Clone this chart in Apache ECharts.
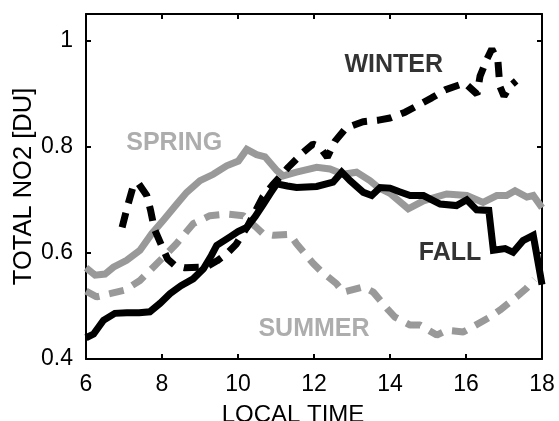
<!DOCTYPE html>
<html>
<head>
<meta charset="utf-8">
<script src="https://cdn.jsdelivr.net/npm/echarts@6/dist/echarts.min.js"></script>
<style>html,body{margin:0;padding:0;background:#fff}#c{width:559px;height:421px}</style>
</head>
<body>
<div id="c"></div>
<script>
// Local time (h) and total NO2 (DU)
const spring = [[6.0,0.572],[6.24,0.558],[6.5,0.560],[6.72,0.573],[7.07,0.586],[7.42,0.605],[7.73,0.636],[8.03,0.661],[8.39,0.692],[8.65,0.714],[9.0,0.736],[9.35,0.748],[9.7,0.764],[10.01,0.773],[10.23,0.795],[10.49,0.785],[10.71,0.781],[11.02,0.755],[11.19,0.745],[11.54,0.752],[12.07,0.761],[12.42,0.758],[12.77,0.748],[13.12,0.752],[13.47,0.736],[13.69,0.723],[14.0,0.712],[14.48,0.683],[14.88,0.698],[15.49,0.711],[16.02,0.708],[16.45,0.695],[16.81,0.708],[17.07,0.708],[17.29,0.717],[17.6,0.705],[17.77,0.708],[18.0,0.685]];
const summer = [[6.0,0.528],[6.28,0.517],[6.63,0.523],[7.03,0.530],[7.42,0.548],[7.77,0.573],[8.12,0.598],[8.38,0.617],[8.82,0.655],[9.26,0.670],[9.7,0.673],[10.14,0.670],[10.45,0.650],[10.66,0.636],[10.93,0.633],[11.37,0.635],[11.54,0.617],[11.98,0.580],[12.16,0.567],[12.59,0.542],[12.77,0.526],[13.3,0.536],[13.56,0.526],[13.96,0.492],[14.13,0.479],[14.53,0.464],[14.79,0.464],[15.23,0.445],[15.49,0.454],[15.93,0.451],[16.11,0.458],[16.63,0.479],[16.89,0.492],[17.33,0.517],[17.59,0.533],[17.8,0.550]];
const fall = [[6.0,0.440],[6.2,0.447],[6.46,0.473],[6.76,0.486],[7.07,0.487],[7.4,0.487],[7.68,0.489],[7.95,0.505],[8.21,0.523],[8.5,0.538],[8.82,0.551],[9.09,0.570],[9.3,0.595],[9.44,0.614],[9.79,0.630],[10.0,0.640],[10.23,0.648],[10.45,0.668],[10.67,0.692],[10.85,0.712],[11.02,0.730],[11.3,0.726],[11.54,0.723],[12.07,0.725],[12.5,0.733],[12.73,0.752],[12.95,0.736],[13.3,0.714],[13.52,0.708],[13.74,0.723],[14.0,0.722],[14.25,0.715],[14.53,0.708],[14.88,0.708],[15.32,0.692],[15.75,0.689],[16.02,0.700],[16.28,0.681],[16.6,0.680],[16.72,0.605],[17.03,0.608],[17.24,0.601],[17.5,0.623],[17.77,0.633],[17.95,0.561],[18.0,0.540]];
const winter = [[6.95,0.648],[7.1,0.690],[7.24,0.725],[7.37,0.732],[7.6,0.708],[7.7,0.680],[7.8,0.645],[8.0,0.612],[8.15,0.588],[8.34,0.576],[8.6,0.572],[9.0,0.573],[9.2,0.575],[9.45,0.585],[9.7,0.598],[9.95,0.616],[10.25,0.650],[10.65,0.705],[10.9,0.727],[11.32,0.761],[11.71,0.789],[11.97,0.805],[12.15,0.800],[12.35,0.780],[12.55,0.810],[12.84,0.835],[13.29,0.847],[13.7,0.850],[14.0,0.854],[14.4,0.865],[14.71,0.877],[15.1,0.892],[15.45,0.907],[15.97,0.920],[16.29,0.899],[16.37,0.933],[16.55,0.965],[16.68,0.984],[16.84,0.961],[16.89,0.914],[17.0,0.895],[17.16,0.914],[17.32,0.924]];
const seasonLabels = [
  {name:'WINTER', pos:[14.1,0.954], dark:true},
  {name:'SPRING', pos:[8.32,0.807], dark:false},
  {name:'FALL', pos:[15.58,0.600], dark:true},
  {name:'SUMMER', pos:[12.0,0.456], dark:false}
];
const xTicks = {min:6, max:18, interval:2};
const yTicks = {min:0.4, max:1.05, interval:0.2};

const GRAY = '#999999', BLACK = '#000000';
const FONT = '"Liberation Sans", Arial, Helvetica, sans-serif';
const chart = echarts.init(document.getElementById('c'), null, {renderer:'canvas'});

const axisCommon = {
  axisLine:{show:true, lineStyle:{color:'#000', width:2}},
  axisTick:{show:true, inside:true, length:5, lineStyle:{color:'#000', width:2}},
  splitLine:{show:false}
};
function yFmt(v){ if (v > 1.001) return ''; if (Math.abs(v-1)<1e-6) return '1'; return v.toFixed(1); }

chart.setOption({
  animation:false,
  backgroundColor:'#fff',
  grid:{left:86, right:17, top:14, bottom:62, containLabel:false, outerBoundsMode:'none'},
  xAxis:[
    Object.assign({type:'value', position:'bottom', min:xTicks.min, max:xTicks.max, interval:xTicks.interval,
      name:'LOCAL TIME', nameLocation:'middle', nameGap:44, nameMoveOverlap:false,
      nameTextStyle:{fontFamily:FONT, fontSize:24, color:'#000', padding:[0,42,0,0]},
      axisLabel:{fontFamily:FONT, fontSize:23, color:'#000', margin:14}}, axisCommon),
    Object.assign({type:'value', position:'top', min:xTicks.min, max:xTicks.max, interval:xTicks.interval,
      axisLabel:{show:false}}, axisCommon)
  ],
  yAxis:[
    Object.assign({type:'value', position:'left', min:yTicks.min, max:yTicks.max, interval:yTicks.interval,
      name:'TOTAL NO2 [DU]', nameLocation:'middle', nameGap:49, nameMoveOverlap:false,
      nameTextStyle:{fontFamily:FONT, fontSize:25.5, color:'#000'},
      axisLabel:{fontFamily:FONT, fontSize:23, color:'#000', margin:13, formatter:yFmt}}, axisCommon),
    Object.assign({type:'value', position:'right', min:yTicks.min, max:yTicks.max, interval:yTicks.interval,
      axisLabel:{show:false}}, axisCommon)
  ],
  series:[
    {type:'line', data:spring, showSymbol:false, symbol:'none', lineStyle:{color:GRAY, width:7, cap:'butt', join:'miter'}},
    {type:'line', data:summer, showSymbol:false, symbol:'none', lineStyle:{color:GRAY, width:7, type:[15,10], cap:'butt'}},
    {type:'line', data:fall, showSymbol:false, symbol:'none', lineStyle:{color:BLACK, width:7, cap:'butt', join:'miter'}},
    {type:'line', data:winter, showSymbol:false, symbol:'none', lineStyle:{color:BLACK, width:7, type:[15,10], cap:'butt'}},
    {type:'scatter', symbolSize:0, silent:true,
      data:seasonLabels.map(l=>({name:l.name, value:l.pos,
        label:{show:true, position:'inside', formatter:l.name, fontFamily:FONT, fontWeight:'bold', fontSize:25,
          color:l.dark?BLACK:GRAY}}))}
  ]
});
</script>
</body>
</html>
